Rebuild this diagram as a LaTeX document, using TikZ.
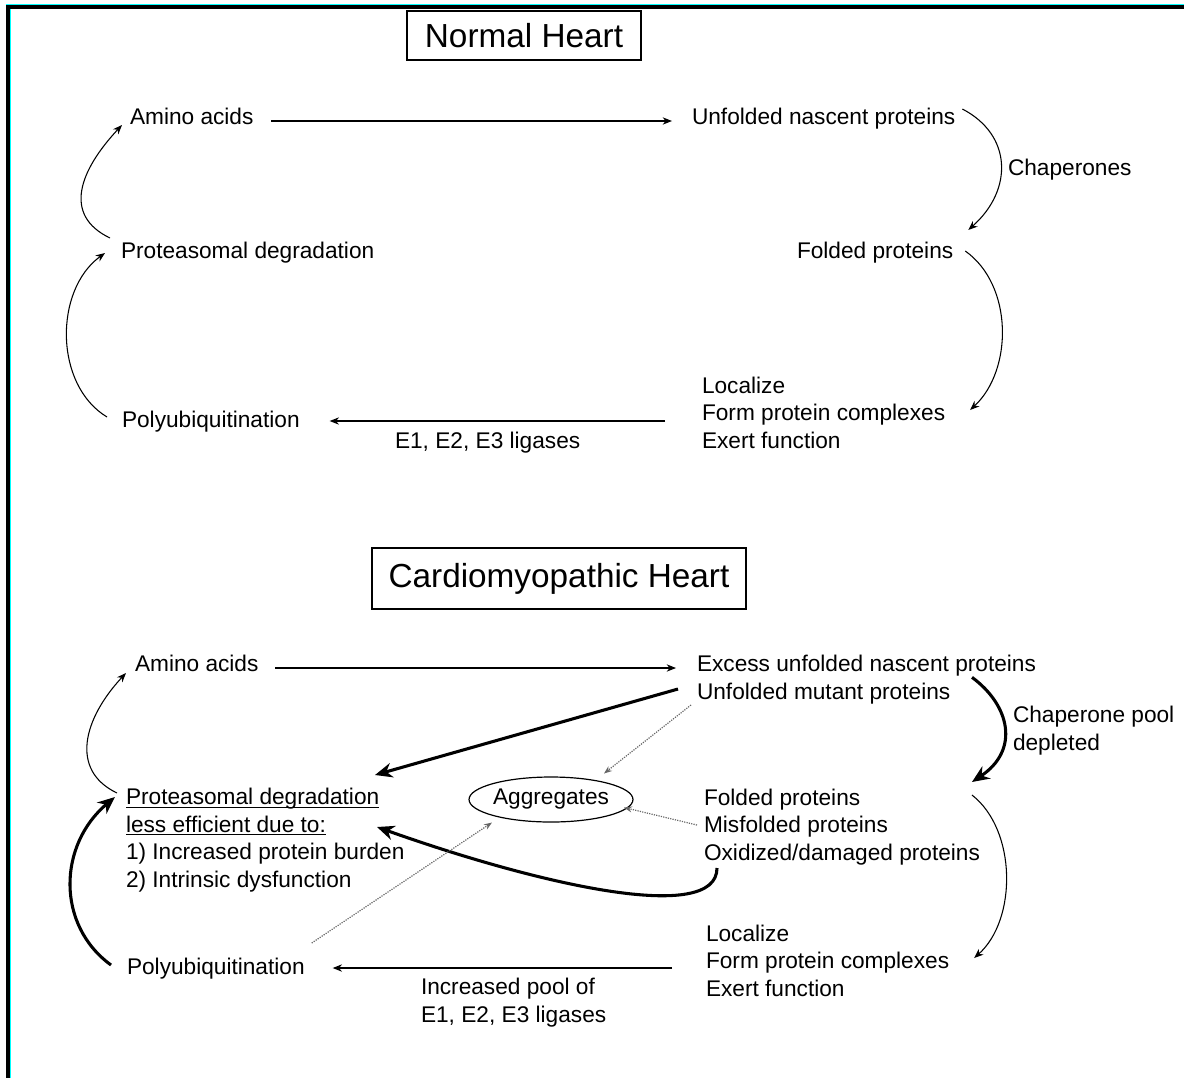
\documentclass[tikz,border=0pt]{standalone}
\usepackage{fontspec}
\setmainfont{Liberation Sans}
\usepackage{tikz}
\usepackage{xcolor}
\usetikzlibrary{arrows.meta,shapes.geometric,calc}
\definecolor{framecyan}{RGB}{0,255,255}
\newcommand{\ulin}[1]{\setbox0\hbox{#1}\rlap{\rule[-2.5pt]{\wd0}{0.8pt}}\box0}

\begin{document}
\begin{tikzpicture}[x=0.75pt, y=-0.75pt,
  lbl/.style={inner sep=0pt, outer sep=0pt, anchor=base west, text height=13pt, text depth=4pt, font=\fontsize{17}{20.6}\selectfont},
  blk/.style={inner sep=0pt, outer sep=0pt, anchor=base west, align=left, font=\fontsize{17}{20.6}\selectfont},
  title/.style={draw, rectangle, inner sep=0pt, line width=0.9pt, font=\fontsize{25}{30}\selectfont},
  aggbox/.style={ellipse, draw, inner sep=0pt, line width=0.9pt, minimum width=106.5pt, minimum height=33.75pt, font=\fontsize{17}{20.6}\selectfont},
  thinarr/.style={-{Stealth[length=7pt,width=5.5pt]}, line width=0.8pt},
  thickarr/.style={-{Stealth[length=13pt,width=11pt]}, line width=2.3pt},
  dotarr/.style={-{Stealth[length=6pt,width=4.5pt]}, line width=0.9pt, black!60, dash pattern=on 0.9pt off 0.9pt}]
  \useasboundingbox (0,0) rectangle (1184,1078);
  \fill[framecyan] (6,4) rectangle (1184,5);
  \fill[black] (6,5) rectangle (1184,9);
  \fill[black] (6,5) rectangle (10,1078);
  \fill[framecyan] (10,9) rectangle (11,1078);

  \node[title, minimum width=175.5pt, minimum height=36.75pt] (normal) at (524,35.5) {Normal Heart};
  \node[title, minimum width=280.5pt, minimum height=45.75pt] (cardio) at (559,578.5) {Cardiomyopathic Heart};

  \node[lbl] (amino1) at (130,124) {Amino acids};
  \node[lbl] (unf1) at (692,124) {Unfolded nascent proteins};
  \node[lbl] (chap1) at (1008,175) {Chaperones};
  \node[lbl] (fold1) at (797,258) {Folded proteins};
  \node[blk] (loc1) at (702,448) {Localize\\Form protein complexes\\Exert function};
  \node[lbl] (lig1) at (395,448) {E1, E2, E3 ligases};
  \node[lbl] (poly1) at (122,427) {Polyubiquitination};
  \node[lbl] (prot1) at (121,258) {Proteasomal degradation};

  \draw[thinarr] ($(amino1.east)+(18,3)$) -- ($(unf1.west)+(-20,3)$);
  \draw[thinarr] ($(unf1.east)+(7,-9)$) .. controls +(50,26) and +(45,-40) .. ($(fold1.east)+(15,-22)$);
  \draw[thinarr] ($(fold1.east)+(12,-1)$) .. controls +(48,34) and +(43,-40) .. ($(loc1.base east)+(25,-38)$);
  \draw[thinarr] ($(loc1.base west)+(-37,-27)$) -- ($(poly1.east)+(30,0)$);
  \draw[thinarr] ($(poly1.west)+(-15,-4)$) .. controls +(-53,-32) and +(-51,37) .. ($(prot1.west)+(-16,1)$);
  \draw[thinarr] ($(prot1.west)+(-11,-14)$) .. controls +(-48,-23) and +(-42,45) .. ($(amino1.west)+(-8,7)$);

  \node[lbl] (amino2) at (135,671) {Amino acids};
  \node[lbl] (exc) at (697,671) {Excess unfolded nascent proteins};
  \node[lbl] (mut) at (697,699) {Unfolded mutant proteins};
  \node[blk] (chap2) at (1013,750) {Chaperone pool\\depleted};
  \node[blk] (fold2) at (704,860) {Folded proteins\\Misfolded proteins\\Oxidized/damaged proteins};
  \node[aggbox] (aggr) at (551,799.5) {Aggregates};
  \node[blk] (prot2) at (126,887) {\ulin{Proteasomal degradation}\\\ulin{less efficient due to:}\\1) Increased protein burden\\2) Intrinsic dysfunction};
  \node[blk] (loc2) at (706,996) {Localize\\Form protein complexes\\Exert function};
  \node[lbl] (poly2) at (127,974) {Polyubiquitination};
  \node[blk] (lig2) at (421,1022) {Increased pool of\\E1, E2, E3 ligases};

  \draw[thinarr] ($(amino2.east)+(17,3)$) -- ($(exc.west)+(-21,3)$);
  \draw[thickarr] ($(exc.south west)+(275,1)$) .. controls +(38,28) and +(48,-32) .. ($(fold2.base east)+(-8,-78)$);
  \draw[thinarr] ($(fold2.base east)+(-8,-65)$) .. controls +(45,35) and +(43,-38) .. ($(loc2.base east)+(25,-38)$);
  \draw[thinarr] ($(loc2.base west)+(-34,-28)$) -- ($(poly2.east)+(28,0)$);
  \draw[thickarr] ($(poly2.west)+(-16,-3)$) .. controls +(-55,-40) and +(-57,48) .. ($(prot2.base west)+(-11,-90)$);
  \draw[thinarr] ($(prot2.base west)+(-9,-94)$) .. controls +(-48,-23) and +(-42,45) .. ($(amino2.west)+(-9,8)$);
  \draw[thickarr] ($(mut.west)+(-19,-4)$) -- ($(prot2.base west)+(249,-112)$);
  \draw[thickarr] ($(fold2.base west)+(13,8)$) .. controls +(0,57) and +(163,58) .. ($(prot2.base west)+(251,-60)$);
  \draw[dotarr] ($(mut.west)+(-6,12)$) -- ($(aggr.center)+(53,-26)$);
  \draw[dotarr] ($(fold2.base west)+(-7,-35)$) -- ($(aggr.center)+(73,8)$);
  \draw[dotarr] ($(poly2.east)+(7,-25)$) -- ($(aggr.center)+(-59,23)$);
\end{tikzpicture}
\end{document}
